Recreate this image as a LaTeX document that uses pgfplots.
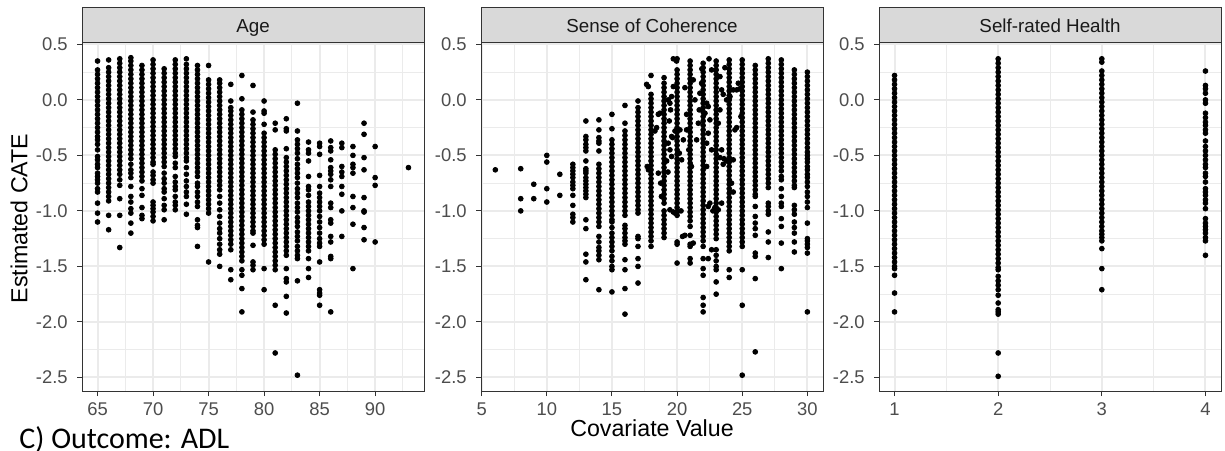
\documentclass[border=0pt]{standalone}
\usepackage{pgfplots}
\pgfplotsset{compat=1.18}
\usepackage{fontspec}
\setmainfont{Liberation Sans}
\newfontfamily\calibri{Carlito}

\definecolor{gridmaj}{HTML}{EBEBEB}
\definecolor{stripfill}{HTML}{D9D9D9}
\definecolor{frame}{HTML}{333333}
\definecolor{ticklab}{HTML}{4D4D4D}

\pgfplotsset{
  facet/.style={
    scale only axis, width=171pt, height=174pt,
    anchor=south west,
    ymin=-2.6225, ymax=0.5125,
    ytick={-2.5,-2,-1.5,-1,-0.5,0,0.5},
    yticklabels={-2.5,-2.0,-1.5,-1.0,-0.5,0.0,0.5},
    minor ytick={-2.25,-1.75,-1.25,-0.75,-0.25,0.25},
    grid=both,
    major grid style={draw=gridmaj, line width=1pt},
    minor grid style={draw=gridmaj, line width=0.5pt},
    tick align=outside, tick pos=left,
    major tick length=2.5pt, minor tick length=0pt,
    tick style={draw=frame, line width=0.5pt},
    axis line style={draw=frame, line width=0.5pt},
    ticklabel style={font=\fontsize{9.2}{10}\selectfont, text=ticklab, inner sep=0pt},
    yticklabel style={anchor=east, xshift=-4.5pt},
    xticklabel style={anchor=north, yshift=-3.2pt},
  },
  dots/.style={only marks, mark=*, mark size=1.2pt, draw=black, fill=black},
}

\begin{document}
\begin{tikzpicture}[x=0.5pt, y=0.5pt]
\fill[white] (0,0) rectangle (1225,450);
\useasboundingbox (0,0) rectangle (1225,450);

% ---------------- Age ----------------
\begin{axis}[facet, at={(41pt,29.5pt)},
  xmin=63.6, xmax=94.4,
  xtick={65,70,75,80,85,90}, xticklabels={65,70,75,80,85,90},
  minor xtick={67.5,72.5,77.5,82.5,87.5,92.5}]
\addplot[dots] coordinates {
(65,.35)(65,.27)(65,.23)(65,.19)(65,.15)(65,.11)(65,.07)(65,.03)(65,-.01)(65,-.05)(65,-.09)(65,-.13)(65,-.17)(65,-.21)(65,-.25)(65,-.29)(65,-.33)(65,-.36)(65,-.40)(65,-.45)(65,-.51)(65,-.54)(65,-.58)(65,-.61)(65,-.66)(65,-.69)(65,-.72)(65,-.75)(65,-.80)(65,-.83)(65,-.93)(65,-1.02)(65,-1.10)
(66,.36)(66,.29)(66,.25)(66,.21)(66,.17)(66,.13)(66,.09)(66,.05)(66,.01)(66,-.03)(66,-.07)(66,-.11)(66,-.15)(66,-.19)(66,-.23)(66,-.27)(66,-.31)(66,-.35)(66,-.39)(66,-.43)(66,-.47)(66,-.51)(66,-.55)(66,-.59)(66,-.63)(66,-.67)(66,-.71)(66,-.75)(66,-.79)(66,-.83)(66,-.87)(66,-.91)(66,-1.04)(66,-1.17)
(67,.37)(67,.33)(67,.29)(67,.25)(67,.21)(67,.17)(67,.13)(67,.09)(67,.05)(67,.01)(67,-.03)(67,-.07)(67,-.11)(67,-.15)(67,-.19)(67,-.23)(67,-.27)(67,-.31)(67,-.35)(67,-.39)(67,-.43)(67,-.47)(67,-.51)(67,-.55)(67,-.59)(67,-.63)(67,-.67)(67,-.72)(67,-.77)(67,-.89)(67,-1.04)(67,-1.33)
(68,.38)(68,.35)(68,.31)(68,.27)(68,.23)(68,.19)(68,.15)(68,.11)(68,.07)(68,.03)(68,-.01)(68,-.05)(68,-.09)(68,-.13)(68,-.17)(68,-.21)(68,-.25)(68,-.29)(68,-.33)(68,-.37)(68,-.41)(68,-.45)(68,-.49)(68,-.53)(68,-.58)(68,-.63)(68,-.66)(68,-.70)(68,-.78)(68,-.87)(68,-.92)(68,-.98)(68,-1.02)(68,-1.11)(68,-1.20)
(69,.31)(69,.27)(69,.23)(69,.19)(69,.15)(69,.11)(69,.07)(69,.03)(69,-.01)(69,-.05)(69,-.09)(69,-.13)(69,-.17)(69,-.21)(69,-.25)(69,-.29)(69,-.33)(69,-.37)(69,-.41)(69,-.45)(69,-.49)(69,-.53)(69,-.57)(69,-.61)(69,-.65)(69,-.69)(69,-.73)(69,-.80)(69,-.86)(69,-.97)(69,-1.04)(69,-1.07)
(70,.36)(70,.32)(70,.28)(70,.24)(70,.20)(70,.16)(70,.12)(70,.08)(70,.04)(70,0)(70,-.04)(70,-.08)(70,-.12)(70,-.16)(70,-.20)(70,-.24)(70,-.28)(70,-.32)(70,-.36)(70,-.40)(70,-.44)(70,-.48)(70,-.52)(70,-.56)(70,-.58)(70,-.65)(70,-.68)(70,-.72)(70,-.75)(70,-.92)(70,-.95)(70,-.98)(70,-1.01)(70,-1.05)(70,-1.09)
(71,.28)(71,.24)(71,.20)(71,.16)(71,.12)(71,.08)(71,.04)(71,0)(71,-.04)(71,-.08)(71,-.12)(71,-.16)(71,-.20)(71,-.24)(71,-.28)(71,-.32)(71,-.36)(71,-.40)(71,-.44)(71,-.48)(71,-.52)(71,-.56)(71,-.60)(71,-.66)(71,-.71)(71,-.75)(71,-.80)(71,-.83)(71,-.89)(71,-.95)(71,-.99)(71,-1.08)
(72,.36)(72,.32)(72,.28)(72,.24)(72,.20)(72,.16)(72,.12)(72,.08)(72,.04)(72,0)(72,-.04)(72,-.08)(72,-.12)(72,-.16)(72,-.20)(72,-.24)(72,-.28)(72,-.32)(72,-.36)(72,-.40)(72,-.44)(72,-.48)(72,-.51)(72,-.57)(72,-.61)(72,-.69)(72,-.74)(72,-.78)(72,-.81)(72,-.87)(72,-.92)(72,-.95)(72,-.99)
(73,.37)(73,.32)(73,.28)(73,.24)(73,.20)(73,.16)(73,.12)(73,.08)(73,.04)(73,0)(73,-.04)(73,-.08)(73,-.12)(73,-.16)(73,-.20)(73,-.24)(73,-.28)(73,-.32)(73,-.36)(73,-.40)(73,-.44)(73,-.48)(73,-.52)(73,-.55)(73,-.61)(73,-.67)(73,-.73)(73,-.78)(73,-.83)(73,-.87)(73,-.94)(73,-1.03)
(74,.31)(74,.27)(74,.23)(74,.19)(74,.15)(74,.11)(74,.07)(74,.03)(74,-.01)(74,-.05)(74,-.09)(74,-.13)(74,-.17)(74,-.21)(74,-.25)(74,-.29)(74,-.33)(74,-.37)(74,-.41)(74,-.45)(74,-.49)(74,-.53)(74,-.57)(74,-.61)(74,-.65)(74,-.69)(74,-.75)(74,-.78)(74,-.83)(74,-.87)(74,-.92)(74,-.96)(74,-1.08)(74,-1.13)(74,-1.15)(74,-1.32)
(75,.31)(75,.18)(75,.14)(75,.10)(75,.06)(75,.02)(75,-.02)(75,-.06)(75,-.10)(75,-.14)(75,-.18)(75,-.22)(75,-.26)(75,-.30)(75,-.34)(75,-.38)(75,-.42)(75,-.46)(75,-.50)(75,-.54)(75,-.58)(75,-.62)(75,-.66)(75,-.70)(75,-.74)(75,-.78)(75,-.82)(75,-.86)(75,-.90)(75,-.94)(75,-.98)(75,-1.02)(75,-1.46)
(76,.18)(76,.15)(76,.11)(76,.07)(76,.03)(76,-.01)(76,-.05)(76,-.09)(76,-.13)(76,-.17)(76,-.21)(76,-.25)(76,-.29)(76,-.33)(76,-.37)(76,-.41)(76,-.45)(76,-.49)(76,-.53)(76,-.57)(76,-.61)(76,-.65)(76,-.69)(76,-.73)(76,-.77)(76,-.81)(76,-.87)(76,-.93)(76,-.99)(76,-1.05)(76,-1.11)(76,-1.16)(76,-1.20)(76,-1.25)(76,-1.30)(76,-1.35)(76,-1.39)(76,-1.50)
(77,.14)(77,-.01)(77,-.07)(77,-.10)(77,-.14)(77,-.18)(77,-.22)(77,-.26)(77,-.30)(77,-.34)(77,-.38)(77,-.42)(77,-.46)(77,-.50)(77,-.54)(77,-.58)(77,-.62)(77,-.66)(77,-.70)(77,-.74)(77,-.78)(77,-.82)(77,-.86)(77,-.90)(77,-.94)(77,-.98)(77,-1.02)(77,-1.06)(77,-1.10)(77,-1.14)(77,-1.18)(77,-1.22)(77,-1.26)(77,-1.30)(77,-1.35)(77,-1.53)(77,-1.62)
(78,.22)(78,.01)(78,-.09)(78,-.13)(78,-.17)(78,-.21)(78,-.25)(78,-.29)(78,-.33)(78,-.37)(78,-.41)(78,-.45)(78,-.49)(78,-.53)(78,-.57)(78,-.61)(78,-.65)(78,-.69)(78,-.73)(78,-.77)(78,-.81)(78,-.85)(78,-.89)(78,-.93)(78,-.97)(78,-1.01)(78,-1.05)(78,-1.09)(78,-1.13)(78,-1.17)(78,-1.21)(78,-1.25)(78,-1.29)(78,-1.33)(78,-1.37)(78,-1.41)(78,-1.45)(78,-1.53)(78,-1.58)(78,-1.70)(78,-1.91)
(79,.13)(79,-.11)(79,-.18)(79,-.22)(79,-.26)(79,-.30)(79,-.34)(79,-.38)(79,-.42)(79,-.46)(79,-.50)(79,-.54)(79,-.58)(79,-.62)(79,-.66)(79,-.70)(79,-.74)(79,-.78)(79,-.82)(79,-.86)(79,-.90)(79,-.94)(79,-.98)(79,-1.02)(79,-1.06)(79,-1.10)(79,-1.14)(79,-1.18)(79,-1.20)(79,-1.31)(79,-1.46)(79,-1.49)(79,-1.53)
(80,-.01)(80,-.10)(80,-.12)(80,-.22)(80,-.30)(80,-.34)(80,-.38)(80,-.42)(80,-.46)(80,-.50)(80,-.54)(80,-.58)(80,-.62)(80,-.66)(80,-.70)(80,-.74)(80,-.78)(80,-.82)(80,-.86)(80,-.90)(80,-.94)(80,-.98)(80,-1.02)(80,-1.06)(80,-1.10)(80,-1.14)(80,-1.18)(80,-1.22)(80,-1.26)(80,-1.30)(80,-1.52)(80,-1.71)
(81,-.21)(81,-.27)(81,-.45)(81,-.49)(81,-.53)(81,-.57)(81,-.61)(81,-.65)(81,-.69)(81,-.73)(81,-.77)(81,-.81)(81,-.85)(81,-.89)(81,-.93)(81,-.97)(81,-1.01)(81,-1.05)(81,-1.09)(81,-1.13)(81,-1.17)(81,-1.21)(81,-1.25)(81,-1.29)(81,-1.33)(81,-1.37)(81,-1.41)(81,-1.45)(81,-1.49)(81,-1.53)(81,-1.85)(81,-2.28)
(82,-.17)(82,-.26)(82,-.28)(82,-.44)(82,-.52)(82,-.56)(82,-.60)(82,-.64)(82,-.68)(82,-.72)(82,-.76)(82,-.80)(82,-.84)(82,-.88)(82,-.92)(82,-.96)(82,-1.00)(82,-1.04)(82,-1.08)(82,-1.12)(82,-1.16)(82,-1.20)(82,-1.24)(82,-1.28)(82,-1.32)(82,-1.36)(82,-1.40)(82,-1.52)(82,-1.61)(82,-1.64)(82,-1.77)(82,-1.92)
(83,-.03)(83,-.28)(83,-.36)(83,-.40)(83,-.44)(83,-.48)(83,-.53)(83,-.58)(83,-.62)(83,-.66)(83,-.70)(83,-.75)(83,-.80)(83,-.84)(83,-.88)(83,-.93)(83,-.97)(83,-1.01)(83,-1.06)(83,-1.10)(83,-1.14)(83,-1.19)(83,-1.23)(83,-1.27)(83,-1.32)(83,-1.36)(83,-1.40)(83,-1.43)(83,-1.63)(83,-2.48)
(84,-.38)(84,-.45)(84,-.48)(84,-.55)(84,-.69)(84,-.78)(84,-.81)(84,-.86)(84,-.92)(84,-.96)(84,-1.00)(84,-1.04)(84,-1.08)(84,-1.12)(84,-1.16)(84,-1.20)(84,-1.24)(84,-1.28)(84,-1.32)(84,-1.36)(84,-1.43)(84,-1.52)(84,-1.60)
(85,-.39)(85,-.42)(85,-.49)(85,-.68)(85,-.78)(85,-.84)(85,-.88)(85,-.92)(85,-.96)(85,-1.00)(85,-1.05)(85,-1.10)(85,-1.15)(85,-1.20)(85,-1.25)(85,-1.29)(85,-1.32)(85,-1.46)(85,-1.71)(85,-1.74)(85,-1.76)(85,-1.85)
(86,-.37)(86,-.43)(86,-.46)(86,-.54)(86,-.61)(86,-.64)(86,-.67)(86,-.72)(86,-.78)(86,-.93)(86,-.97)(86,-1.08)(86,-1.11)(86,-1.23)(86,-1.28)(86,-1.41)(86,-1.43)(86,-1.91)
(87,-.39)(87,-.43)(87,-.60)(87,-.65)(87,-.69)(87,-.78)(87,-.85)(87,-1.00)(87,-1.23)
(88,-.42)(88,-.50)(88,-.58)(88,-.61)(88,-.66)(88,-.87)(88,-.97)(88,-1.12)(88,-1.52)
(89,-.21)(89,-.31)(89,-.52)(89,-.63)(89,-.88)(89,-1.00)(89,-1.01)(89,-1.15)(89,-1.26)
(90,-.42)(90,-.70)(90,-.77)(90,-1.28)
(93,-.61)
};
\end{axis}

% ---------------- Sense of Coherence ----------------
\begin{axis}[facet, at={(240.5pt,29.5pt)},
  xmin=4.95, xmax=31.2,
  xtick={5,10,15,20,25,30}, xticklabels={5,10,15,20,25,30},
  minor xtick={7.5,12.5,17.5,22.5,27.5}]
\addplot[dots] coordinates {
(6.05,-.63)
(8,-.62)(8,-.89)(8,-1.00)
(9,-.76)(9,-.89)
(10,-.50)(10,-.56)(10,-.80)(10,-.92)
(11,-.67)(11,-.86)
(12,-.58)(12,-.61)(12,-.64)(12,-.67)(12,-.70)(12,-.74)(12,-.77)(12,-.80)(12,-.86)(12,-.95)(12,-1.03)(12,-1.06)(12,-1.10)
(13,-.19)(13,-.33)(13,-.36)(13,-.40)(13,-.43)(13,-.46)(13,-.55)(13,-.62)(13,-.64)(13,-.66)(13,-.70)(13,-.73)(13,-.76)(13,-.79)(13,-.82)(13,-.85)(13,-.88)(13,-1.08)(13,-1.16)(13,-1.39)(13,-1.46)(13,-1.62)
(14,-.18)(14,-.27)(14,-.34)(14,-.37)(14,-.39)(14,-.46)(14,-.58)(14,-.62)(14,-.66)(14,-.70)(14,-.74)(14,-.78)(14,-.82)(14,-.86)(14,-.90)(14,-.94)(14,-.98)(14,-1.02)(14,-1.06)(14,-1.10)(14,-1.14)(14,-1.23)(14,-1.28)(14,-1.33)(14,-1.36)(14,-1.40)(14,-1.44)(14,-1.71)
(15,-.13)(15,-.26)(15,-.36)(15,-.40)(15,-.44)(15,-.48)(15,-.52)(15,-.56)(15,-.60)(15,-.64)(15,-.68)(15,-.72)(15,-.76)(15,-.80)(15,-.84)(15,-.88)(15,-.92)(15,-.96)(15,-1.00)(15,-1.04)(15,-1.08)(15,-1.10)(15,-1.15)(15,-1.20)(15,-1.24)(15,-1.28)(15,-1.32)(15,-1.36)(15,-1.41)(15,-1.45)(15,-1.50)(15,-1.53)(15,-1.73)
(16,-.05)(16,-.21)(16,-.28)(16,-.32)(16,-.36)(16,-.40)(16,-.44)(16,-.48)(16,-.52)(16,-.56)(16,-.60)(16,-.64)(16,-.68)(16,-.72)(16,-.76)(16,-.80)(16,-.84)(16,-.88)(16,-.92)(16,-.96)(16,-1.00)(16,-1.04)(16,-1.13)(16,-1.16)(16,-1.20)(16,-1.24)(16,-1.27)(16,-1.30)(16,-1.44)(16,-1.53)(16,-1.70)(16,-1.93)
(17,-.01)(17,-.07)(17,-.11)(17,-.15)(17,-.19)(17,-.23)(17,-.27)(17,-.31)(17,-.35)(17,-.39)(17,-.43)(17,-.47)(17,-.51)(17,-.55)(17,-.59)(17,-.63)(17,-.67)(17,-.71)(17,-.75)(17,-.79)(17,-.83)(17,-.87)(17,-.91)(17,-.95)(17,-.99)(17,-1.02)(17,-1.23)(17,-1.25)(17,-1.32)(17,-1.43)(17,-1.50)(17,-1.65)
(18,.22)(18,.05)(18,.01)(18,-.03)(18,-.07)(18,-.11)(18,-.15)(18,-.19)(18,-.23)(18,-.27)(18,-.31)(18,-.35)(18,-.39)(18,-.43)(18,-.47)(18,-.51)(18,-.55)(18,-.59)(18,-.63)(18,-.67)(18,-.71)(18,-.75)(18,-.79)(18,-.83)(18,-.87)(18,-.91)(18,-.95)(18,-.99)(18,-1.03)(18,-1.07)(18,-1.11)(18,-1.15)(18,-1.19)(18,-1.23)(18,-1.27)(18,-1.32)
(19,.20)(19,.15)(19,.11)(19,.07)(19,.03)(19,-.01)(19,-.05)(19,-.09)(19,-.13)(19,-.17)(19,-.21)(19,-.25)(19,-.29)(19,-.33)(19,-.37)(19,-.41)(19,-.45)(19,-.49)(19,-.53)(19,-.57)(19,-.61)(19,-.65)(19,-.69)(19,-.73)(19,-.77)(19,-.81)(19,-.85)(19,-.89)(19,-.93)(19,-1.00)(19,-1.04)(19,-1.08)(19,-1.12)(19,-1.16)(19,-1.20)(19,-1.24)
(20,.37)(20,.27)(20,.23)(20,.19)(20,.15)(20,.11)(20,.07)(20,.03)(20,-.01)(20,-.05)(20,-.09)(20,-.13)(20,-.17)(20,-.21)(20,-.25)(20,-.29)(20,-.33)(20,-.37)(20,-.41)(20,-.45)(20,-.49)(20,-.53)(20,-.57)(20,-.61)(20,-.65)(20,-.69)(20,-.73)(20,-.77)(20,-.81)(20,-.85)(20,-.89)(20,-.93)(20,-.97)(20,-1.01)(20,-1.04)(20,-1.28)(20,-1.30)(20,-1.47)
(21,.35)(21,.31)(21,.27)(21,.23)(21,.19)(21,.15)(21,.11)(21,.07)(21,.03)(21,-.01)(21,-.05)(21,-.09)(21,-.13)(21,-.17)(21,-.21)(21,-.25)(21,-.29)(21,-.33)(21,-.37)(21,-.41)(21,-.45)(21,-.49)(21,-.53)(21,-.57)(21,-.61)(21,-.65)(21,-.69)(21,-.73)(21,-.77)(21,-.81)(21,-.85)(21,-.89)(21,-.93)(21,-.97)(21,-1.01)(21,-1.05)(21,-1.09)(21,-1.14)(21,-1.22)(21,-1.30)(21,-1.32)(21,-1.43)(21,-1.47)
(22,.33)(22,.29)(22,.25)(22,.21)(22,.17)(22,.13)(22,.09)(22,.05)(22,.01)(22,-.03)(22,-.07)(22,-.11)(22,-.15)(22,-.19)(22,-.23)(22,-.27)(22,-.31)(22,-.35)(22,-.39)(22,-.43)(22,-.47)(22,-.51)(22,-.55)(22,-.59)(22,-.63)(22,-.67)(22,-.71)(22,-.75)(22,-.79)(22,-.83)(22,-.87)(22,-.91)(22,-.95)(22,-.99)(22,-1.03)(22,-1.07)(22,-1.11)(22,-1.15)(22,-1.19)(22,-1.23)(22,-1.27)(22,-1.32)(22,-1.43)(22,-1.52)(22,-1.58)(22,-1.78)(22,-1.85)(22,-1.91)
(23,.35)(23,.31)(23,.27)(23,.23)(23,.19)(23,.15)(23,.11)(23,.07)(23,.03)(23,-.01)(23,-.05)(23,-.09)(23,-.13)(23,-.17)(23,-.21)(23,-.25)(23,-.29)(23,-.33)(23,-.37)(23,-.41)(23,-.45)(23,-.49)(23,-.53)(23,-.57)(23,-.61)(23,-.65)(23,-.69)(23,-.73)(23,-.77)(23,-.81)(23,-.85)(23,-.89)(23,-.93)(23,-.97)(23,-1.01)(23,-1.05)(23,-1.09)(23,-1.13)(23,-1.17)(23,-1.21)(23,-1.25)(23,-1.35)(23,-1.40)(23,-1.45)(23,-1.50)(23,-1.53)(23,-1.64)(23,-1.75)
(24,.36)(24,.32)(24,.28)(24,.24)(24,.20)(24,.16)(24,.12)(24,.08)(24,.04)(24,0)(24,-.04)(24,-.08)(24,-.12)(24,-.16)(24,-.20)(24,-.24)(24,-.28)(24,-.32)(24,-.36)(24,-.40)(24,-.44)(24,-.48)(24,-.52)(24,-.56)(24,-.60)(24,-.64)(24,-.68)(24,-.72)(24,-.76)(24,-.80)(24,-.84)(24,-.88)(24,-.92)(24,-.96)(24,-1.00)(24,-1.04)(24,-1.08)(24,-1.12)(24,-1.16)(24,-1.20)(24,-1.24)(24,-1.28)(24,-1.32)(24,-1.36)(24,-1.53)(24,-1.60)
(25,.36)(25,.32)(25,.28)(25,.24)(25,.20)(25,.16)(25,.12)(25,.08)(25,.04)(25,0)(25,-.04)(25,-.08)(25,-.12)(25,-.16)(25,-.20)(25,-.24)(25,-.28)(25,-.32)(25,-.36)(25,-.40)(25,-.44)(25,-.48)(25,-.52)(25,-.56)(25,-.60)(25,-.64)(25,-.68)(25,-.72)(25,-.76)(25,-.80)(25,-.84)(25,-.88)(25,-.92)(25,-.96)(25,-1.00)(25,-1.04)(25,-1.08)(25,-1.12)(25,-1.16)(25,-1.20)(25,-1.24)(25,-1.28)(25,-1.32)(25,-1.53)(25,-1.85)(25,-2.48)
(26,.31)(26,.27)(26,.23)(26,.19)(26,.15)(26,.11)(26,.07)(26,.03)(26,-.01)(26,-.05)(26,-.09)(26,-.13)(26,-.17)(26,-.21)(26,-.25)(26,-.29)(26,-.33)(26,-.37)(26,-.41)(26,-.45)(26,-.49)(26,-.53)(26,-.57)(26,-.61)(26,-.65)(26,-.69)(26,-.73)(26,-.77)(26,-.81)(26,-.85)(26,-.87)(26,-.96)(26,-1.05)(26,-1.11)(26,-1.16)(26,-1.22)(26,-1.38)(26,-1.41)(26,-1.61)(26,-2.27)
(27,.37)(27,.33)(27,.29)(27,.25)(27,.21)(27,.17)(27,.13)(27,.09)(27,.05)(27,.01)(27,-.03)(27,-.07)(27,-.11)(27,-.15)(27,-.19)(27,-.23)(27,-.27)(27,-.31)(27,-.35)(27,-.39)(27,-.43)(27,-.47)(27,-.51)(27,-.55)(27,-.59)(27,-.63)(27,-.67)(27,-.71)(27,-.75)(27,-.79)(27,-.93)(27,-.96)(27,-1.00)(27,-1.03)(27,-1.19)(27,-1.28)(27,-1.42)
(28,.36)(28,.32)(28,.28)(28,.24)(28,.20)(28,.16)(28,.12)(28,.08)(28,.04)(28,0)(28,-.04)(28,-.08)(28,-.12)(28,-.16)(28,-.20)(28,-.24)(28,-.28)(28,-.32)(28,-.36)(28,-.40)(28,-.44)(28,-.48)(28,-.52)(28,-.56)(28,-.60)(28,-.64)(28,-.69)(28,-.72)(28,-.80)(28,-.87)(28,-.93)(28,-.96)(28,-1.07)(28,-1.14)(28,-1.29)(28,-1.52)
(29,.27)(29,.23)(29,.19)(29,.15)(29,.11)(29,.07)(29,.03)(29,-.01)(29,-.05)(29,-.09)(29,-.13)(29,-.17)(29,-.21)(29,-.25)(29,-.29)(29,-.33)(29,-.37)(29,-.41)(29,-.45)(29,-.49)(29,-.53)(29,-.57)(29,-.61)(29,-.65)(29,-.69)(29,-.73)(29,-.77)(29,-.79)(29,-.95)(29,-.99)(29,-1.03)(29,-1.10)(29,-1.15)(29,-1.20)(29,-1.28)(29,-1.37)
(30,.25)(30,.21)(30,.17)(30,.13)(30,.09)(30,.05)(30,.01)(30,-.03)(30,-.07)(30,-.11)(30,-.15)(30,-.19)(30,-.23)(30,-.27)(30,-.31)(30,-.35)(30,-.39)(30,-.43)(30,-.47)(30,-.50)(30,-.53)(30,-.56)(30,-.60)(30,-.63)(30,-.67)(30,-.70)(30,-.74)(30,-.78)(30,-.83)(30,-.87)(30,-.92)(30,-.97)(30,-1.11)(30,-1.25)(30,-1.27)(30,-1.30)(30,-1.33)(30,-1.38)(30,-1.91)
};
% respondents with non-integer scores
\addplot[dots] coordinates {
(17.66,.14)(17.79,.12)(17.71,-.60)(17.8,-.63)(18.43,-.25)(18.30,-.28)(18.56,-.13)(18.68,-.12)(18.56,-.66)(18.74,-.75)(18.8,-.87)
(19.32,0)(19.45,-.03)(19.58,.03)(19.50,-.09)(19.40,-.19)(19.58,-.33)(19.32,-.39)(19.45,-.45)(19.58,-.51)(19.2,-.55)(19.3,-.65)
(19.71,.37)(19.96,.35)(19.71,.12)(19.84,-.28)(19.66,-.34)(20.22,-.27)(20.17,-.48)(20.35,-.54)(19.45,-.99)(19.71,-1.01)(19.84,-1.02)(20.3,-1.0)
(20.42,-1.23)(20.60,-1.22)(20.60,.11)(20.73,-.13)(20.48,-.36)(20.73,-.27)(20.9,-.45)(21.1,-.60)
(21.24,.18)(21.37,0)(21.63,-.21)(21.50,-.36)(21.70,-.09)(21.24,-1.29)(21.88,.15)(21.75,.06)(21.9,.28)
(22.27,-.03)(22.39,-.06)(22.14,-.12)(22.52,-.18)(22.39,-.30)(22.27,-.39)(22.65,-.45)(22.27,-.60)(22.52,-.93)(22.39,-.96)(22.65,.27)(22.45,.37)(22.65,-1.35)(22.39,-1.43)(22.9,-.97)(22.75,-1.0)
(23.29,.21)(23.42,.09)(23.54,.05)(23.29,-.09)(23.16,-.21)(23.42,-.45)(23.29,-.52)(23.54,-.58)(23.6,-.53)(23.16,-.99)(23.42,-.93)
(23.67,.29)(23.80,0)(23.8,-.55)(24.06,.03)(24.31,.09)(24.44,-.27)(24.57,-.25)(24.31,-.54)(24.57,.09)(24.70,.15)(24.31,-.83)(24.18,-.75)(24.8,.10)(24.9,-.15)
};
\end{axis}

% ---------------- Self-rated Health ----------------
\begin{axis}[facet, at={(439.5pt,29.5pt)},
  xmin=0.85, xmax=4.15,
  xtick={1,2,3,4}, xticklabels={1,2,3,4},
  minor xtick={1.5,2.5,3.5}]
\addplot[dots] coordinates {
(1,.22)(1,.18)(1,.14)(1,.10)(1,.06)(1,.02)(1,-.02)(1,-.06)(1,-.10)(1,-.14)(1,-.18)(1,-.22)(1,-.26)(1,-.30)(1,-.34)(1,-.38)(1,-.42)(1,-.46)(1,-.50)(1,-.54)(1,-.58)(1,-.62)(1,-.66)(1,-.70)(1,-.74)(1,-.78)(1,-.82)(1,-.86)(1,-.90)(1,-.94)(1,-.98)(1,-1.02)(1,-1.06)(1,-1.10)(1,-1.14)(1,-1.18)(1,-1.22)(1,-1.26)(1,-1.30)(1,-1.34)(1,-1.38)(1,-1.42)(1,-1.46)(1,-1.50)(1,-1.52)(1,-1.58)(1,-1.74)(1,-1.91)
(2,.37)(2,.33)(2,.29)(2,.25)(2,.21)(2,.17)(2,.13)(2,.09)(2,.05)(2,.01)(2,-.03)(2,-.07)(2,-.11)(2,-.15)(2,-.19)(2,-.23)(2,-.27)(2,-.31)(2,-.35)(2,-.39)(2,-.43)(2,-.47)(2,-.51)(2,-.55)(2,-.59)(2,-.63)(2,-.67)(2,-.71)(2,-.75)(2,-.79)(2,-.83)(2,-.87)(2,-.91)(2,-.95)(2,-.99)(2,-1.03)(2,-1.07)(2,-1.11)(2,-1.15)(2,-1.19)(2,-1.23)(2,-1.27)(2,-1.31)(2,-1.35)(2,-1.39)(2,-1.43)(2,-1.47)(2,-1.51)(2,-1.53)(2,-1.59)(2,-1.63)(2,-1.67)(2,-1.71)(2,-1.76)(2,-1.83)(2,-1.89)(2,-1.91)(2,-1.93)(2,-2.28)(2,-2.49)
(3,.37)(3,.34)(3,.26)(3,.22)(3,.18)(3,.14)(3,.10)(3,.06)(3,.02)(3,-.02)(3,-.06)(3,-.10)(3,-.14)(3,-.18)(3,-.22)(3,-.26)(3,-.30)(3,-.34)(3,-.38)(3,-.42)(3,-.46)(3,-.50)(3,-.54)(3,-.58)(3,-.62)(3,-.66)(3,-.70)(3,-.74)(3,-.78)(3,-.82)(3,-.86)(3,-.90)(3,-.94)(3,-.98)(3,-1.02)(3,-1.06)(3,-1.10)(3,-1.14)(3,-1.18)(3,-1.21)(3,-1.24)(3,-1.27)(3,-1.34)(3,-1.52)(3,-1.71)
(4,.26)(4,.13)(4,.10)(4,.06)(4,0)(4,-.03)(4,-.12)(4,-.16)(4,-.20)(4,-.23)(4,-.27)(4,-.30)(4,-.37)(4,-.42)(4,-.46)(4,-.50)(4,-.54)(4,-.58)(4,-.61)(4,-.66)(4,-.69)(4,-.74)(4,-.80)(4,-.83)(4,-.86)(4,-.90)(4,-.93)(4,-.98)(4,-1.07)(4,-1.11)(4,-1.14)(4,-1.17)(4,-1.20)(4,-1.24)(4,-1.27)(4,-1.40)
};
\end{axis}

% facet strips
\foreach \xl/\xr/\name in {82/424/Age, 481/823/Sense of Coherence, 879/1221/Self-rated Health}{
  \filldraw[fill=stripfill, draw=frame, line width=0.5pt] (\xl,407) rectangle (\xr,442.7);
  \node[anchor=base, inner sep=0pt, text=black!90, font=\fontsize{9.4}{11}\selectfont]
    at ({(\xl+\xr)/2},417.7) {\name};
}

% axis titles and panel caption
\node[rotate=90, inner sep=0pt, font=\fontsize{11.6}{13}\selectfont] at (19,231.5) {Estimated CATE};
\node[inner sep=0pt, font=\fontsize{11.6}{13}\selectfont] at (652,22) {Covariate Value};
\node[anchor=base west, inner sep=0pt, font=\calibri\fontsize{15}{18}\selectfont] at (19,2) {C) Outcome: ADL};
\end{tikzpicture}
\end{document}
